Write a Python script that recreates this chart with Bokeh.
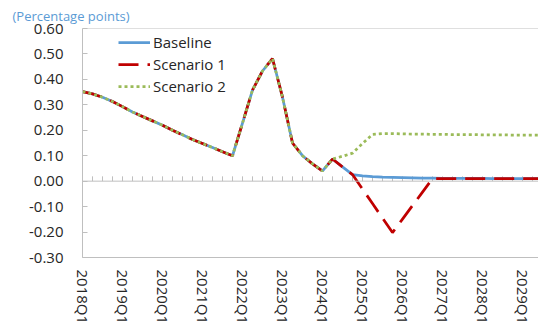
from bokeh.plotting import figure
from bokeh.models import (FixedTicker, NumeralTickFormatter, Span, Legend,
                          LegendItem, Range1d)
from bokeh.embed import file_html
from bokeh.resources import INLINE

# ---------------- data ----------------
quarters = [f"{y}Q{q}" for y in range(2018, 2030) for q in range(1, 5)]
x_idx = list(range(len(quarters)))

tick_labels = ["2018Q1", "2019Q1", "2020Q1", "2021Q1", "2022Q1", "2023Q1",
               "2024Q1", "2025Q1", "2026Q1", "2027Q1", "2028Q1", "2029Q1"]

baseline = [0.352, 0.343, 0.330, 0.313, 0.293, 0.272, 0.254, 0.237,
            0.220, 0.200, 0.182, 0.164, 0.148, 0.132, 0.116, 0.100,
            0.228, 0.358, 0.433, 0.482, 0.330, 0.150, 0.100, 0.068,
            0.040, 0.087, 0.056, 0.026, 0.021, 0.018, 0.016, 0.015,
            0.014, 0.013, 0.012, 0.012, 0.011, 0.011, 0.011, 0.011,
            0.011, 0.010, 0.010, 0.010, 0.010, 0.010, 0.010, 0.010]

scenario1 = [0.352, 0.343, 0.330, 0.313, 0.293, 0.272, 0.254, 0.237,
             0.220, 0.200, 0.182, 0.164, 0.148, 0.132, 0.116, 0.100,
             0.228, 0.358, 0.433, 0.482, 0.330, 0.150, 0.100, 0.068,
             0.040, 0.087, 0.056, 0.026, -0.031, -0.088, -0.145, -0.202,
             -0.149, -0.096, -0.043, 0.010, 0.010, 0.010, 0.010, 0.010,
             0.010, 0.010, 0.010, 0.010, 0.010, 0.010, 0.010, 0.010]

scenario2 = [0.352, 0.343, 0.330, 0.313, 0.293, 0.272, 0.254, 0.237,
             0.220, 0.200, 0.182, 0.164, 0.148, 0.132, 0.116, 0.100,
             0.228, 0.358, 0.433, 0.482, 0.330, 0.150, 0.100, 0.068,
             0.040, 0.087, 0.098, 0.110, 0.148, 0.184, 0.187, 0.187,
             0.186, 0.185, 0.185, 0.184, 0.184, 0.183, 0.183, 0.183,
             0.182, 0.182, 0.182, 0.181, 0.181, 0.181, 0.181, 0.180]

y_ticks = [-0.30, -0.20, -0.10, 0.00, 0.10, 0.20, 0.30, 0.40, 0.50, 0.60]
y_min, y_max = -0.30, 0.60
x_view_end = 45.6
subtitle = "(Percentage points)"

# ---------------- styles ----------------
FONT = "Open Sans"
TXT = "#262626"
GRAY = "#BFBFBF"

p = figure(width=538, height=327, output_backend="svg", toolbar_location=None,
           x_range=Range1d(0, x_view_end), y_range=Range1d(y_min, y_max),
           min_border_left=82, min_border_right=0, min_border_top=27,
           min_border_bottom=0, title=subtitle)
p.title.align = "left"
p.title.offset = -70
p.title.standoff = 8
p.title.text_font = FONT
p.title.text_font_size = "13px"
p.title.text_font_style = "normal"
p.title.text_color = "#5B9BD5"

p.xgrid.visible = False
p.ygrid.visible = False
p.outline_line_color = None
p.background_fill_color = "white"
p.border_fill_color = "white"

# x axis (labels at bottom, line = bottom border)
p.xaxis.ticker = FixedTicker(ticks=[i for i, q in enumerate(quarters) if q in tick_labels])
p.xaxis.major_label_overrides = {i: q for i, q in enumerate(quarters) if q in tick_labels}
p.xaxis.major_label_orientation = "vertical"
p.xaxis.major_tick_in = 0
p.xaxis.major_tick_out = 0
p.xaxis.minor_tick_line_color = None
p.xaxis.axis_line_color = GRAY
p.xaxis.major_label_standoff = 12
p.xaxis.major_label_text_font = FONT
p.xaxis.major_label_text_font_size = "15px"
p.xaxis.major_label_text_color = TXT

# y axis
p.yaxis.ticker = FixedTicker(ticks=y_ticks)
p.yaxis.formatter = NumeralTickFormatter(format="0.00")
p.yaxis.major_tick_in = 5
p.yaxis.major_tick_out = 0
p.yaxis.major_tick_line_color = GRAY
p.yaxis.minor_tick_line_color = None
p.yaxis.axis_line_color = GRAY
p.yaxis.major_label_standoff = 19
p.yaxis.major_label_text_font = FONT
p.yaxis.major_label_text_font_size = "15px"
p.yaxis.major_label_text_color = TXT

# top border and zero line with quarter tick marks
p.add_layout(Span(location=y_max, dimension="width", line_color=GRAY, line_width=1))
p.add_layout(Span(location=0, dimension="width", line_color=GRAY, line_width=1))
tick_len = 0.019
p.segment(x0=x_idx[1:], y0=[0] * (len(x_idx) - 1), x1=x_idx[1:],
          y1=[tick_len] * (len(x_idx) - 1), line_color=GRAY, line_width=1)

# series
r_b = p.line(x_idx, baseline, line_color="#5B9BD5", line_width=2.75)
r_1 = p.line(x_idx, scenario1, line_color="#C00000", line_width=2.75,
             line_dash="20 9")
r_2 = p.line(x_idx, scenario2, line_color="#9BBB59", line_width=2.75,
             line_dash="3 3")

legend = Legend(items=[LegendItem(label="Baseline", renderers=[r_b]),
                       LegendItem(label="Scenario 1", renderers=[r_1]),
                       LegendItem(label="Scenario 2", renderers=[r_2])],
                location=(36, 160), border_line_color=None,
                background_fill_alpha=0, padding=0, margin=0, spacing=0,
                label_height=22, glyph_height=22, glyph_width=32,
                label_standoff=3, label_text_font=FONT,
                label_text_font_size="15px", label_text_color=TXT)
p.add_layout(legend)

open("out.html", "w").write(file_html(p, INLINE))
